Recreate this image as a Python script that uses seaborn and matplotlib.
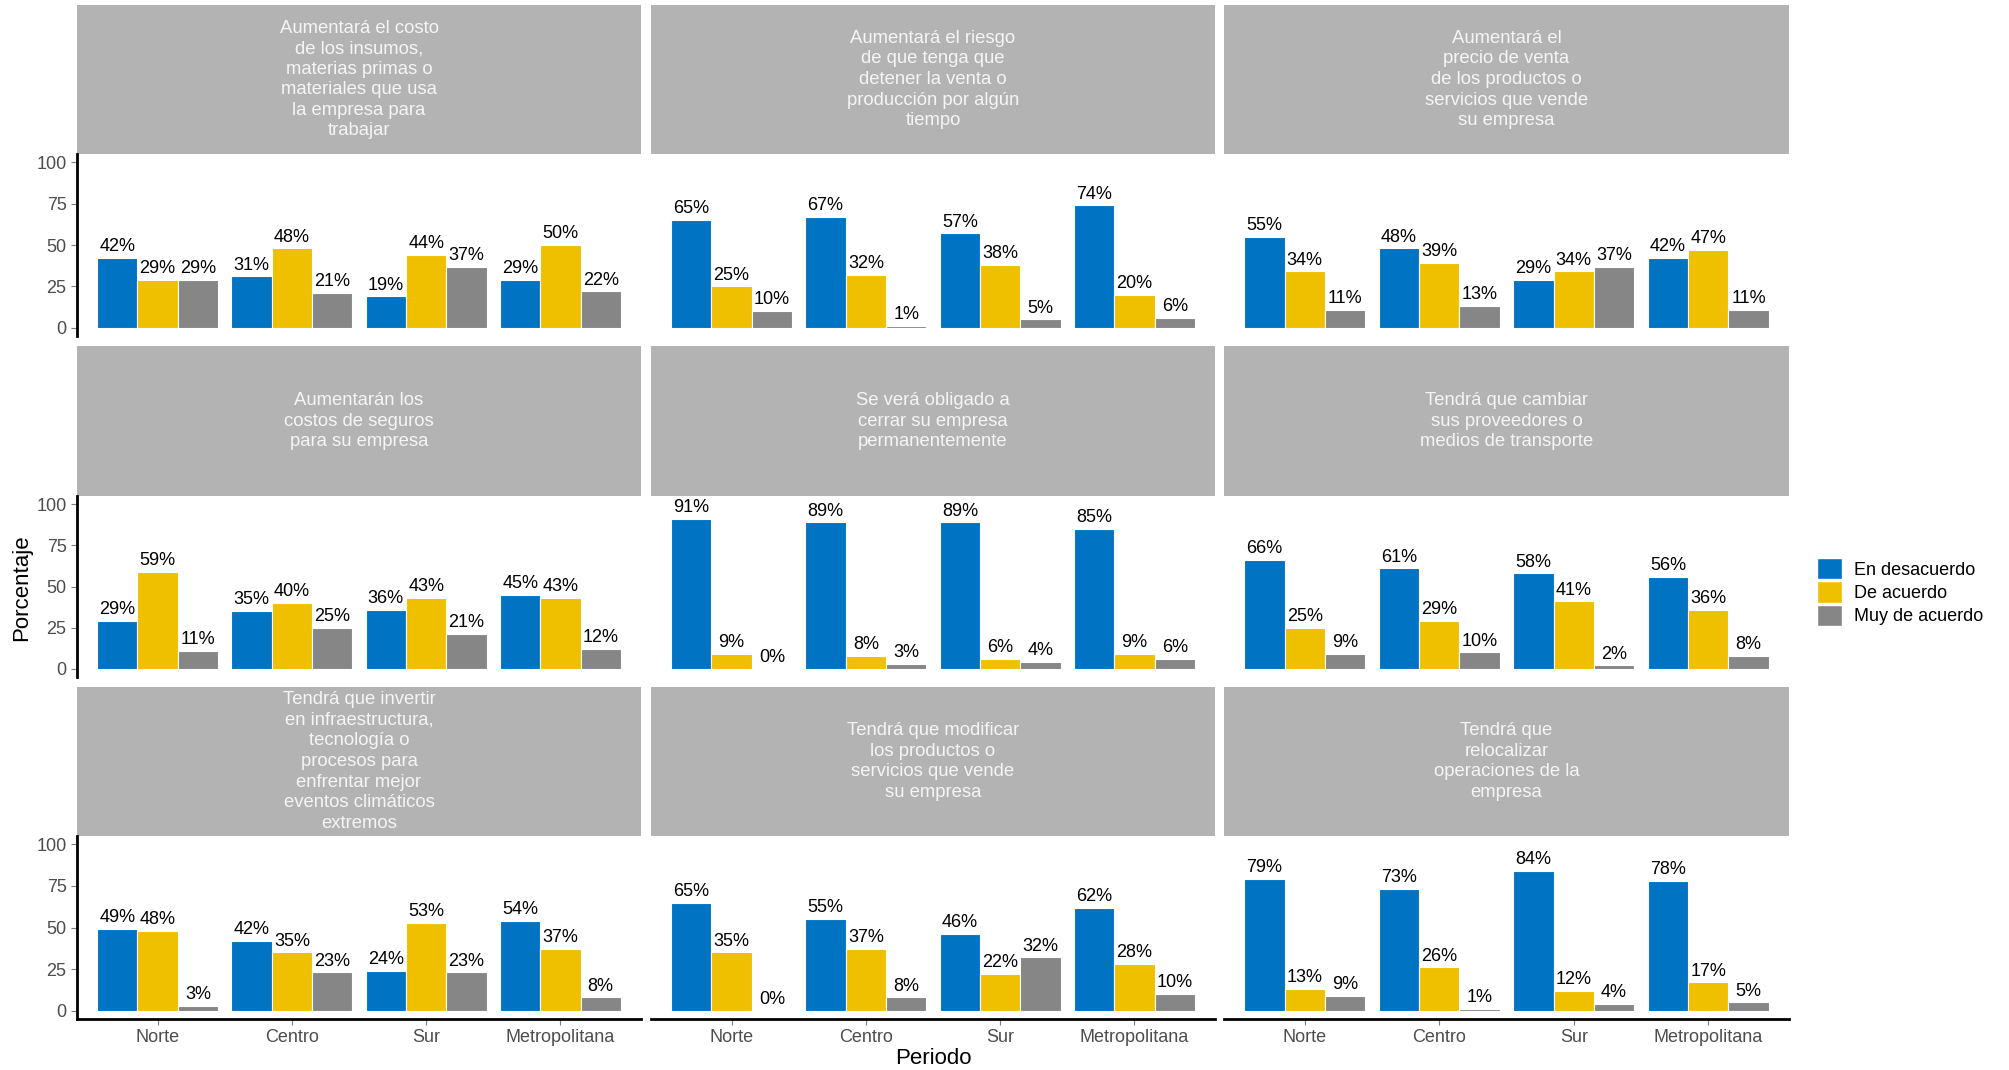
import matplotlib
matplotlib.use("Agg")
import matplotlib.pyplot as plt
from matplotlib.patches import Patch
import seaborn as sns
import pandas as pd

regions = ["Norte", "Centro", "Sur", "Metropolitana"]
series = ["En desacuerdo", "De acuerdo", "Muy de acuerdo"]
colors = ["#0073C2", "#EFC000", "#868686"]

titles = [
    "Aumentará el costo\nde los insumos,\nmaterias primas o\nmateriales que usa\nla empresa para\ntrabajar",
    "Aumentará el riesgo\nde que tenga que\ndetener la venta o\nproducción por algún\ntiempo",
    "Aumentará el\nprecio de venta\nde los productos o\nservicios que vende\nsu empresa",
    "Aumentarán los\ncostos de seguros\npara su empresa",
    "Se verá obligado a\ncerrar su empresa\npermanentemente",
    "Tendrá que cambiar\nsus proveedores o\nmedios de transporte",
    "Tendrá que invertir\nen infraestructura,\ntecnología o\nprocesos para\nenfrentar mejor\neventos climáticos\nextremos",
    "Tendrá que modificar\nlos productos o\nservicios que vende\nsu empresa",
    "Tendrá que\nrelocalizar\noperaciones de la\nempresa",
]

# values per panel: [Norte, Centro, Sur, Metropolitana] x [En desacuerdo, De acuerdo, Muy de acuerdo]
p1 = [[42, 29, 29], [31, 48, 21], [19, 44, 37], [29, 50, 22]]
p2 = [[65, 25, 10], [67, 32, 1], [57, 38, 5], [74, 20, 6]]
p3 = [[55, 34, 11], [48, 39, 13], [29, 34, 37], [42, 47, 11]]
p4 = [[29, 59, 11], [35, 40, 25], [36, 43, 21], [45, 43, 12]]
p5 = [[91, 9, 0], [89, 8, 3], [89, 6, 4], [85, 9, 6]]
p6 = [[66, 25, 9], [61, 29, 10], [58, 41, 2], [56, 36, 8]]
p7 = [[49, 48, 3], [42, 35, 23], [24, 53, 23], [54, 37, 8]]
p8 = [[65, 35, 0], [55, 37, 8], [46, 22, 32], [62, 28, 10]]
p9 = [[79, 13, 9], [73, 26, 1], [84, 12, 4], [78, 17, 5]]
panels = [p1, p2, p3, p4, p5, p6, p7, p8, p9]

yticks = [0, 25, 50, 75, 100]

FONT = ["Liberation Sans", "DejaVu Sans"]
plt.rcParams["font.family"] = FONT

W, H = 2009, 1070
fig = plt.figure(figsize=(W / 100, H / 100), dpi=100)

col_x = [(77, 641), (651, 1215), (1224, 1789)]
row_y = [((5, 154), (154, 336)), ((346, 496), (496, 677)), ((687, 836), (836, 1019))]

def fx(x):
    return x / W

def fy(y):
    return 1 - y / H

for i, (title, vals) in enumerate(zip(titles, panels)):
    r, c = divmod(i, 3)
    x0, x1 = col_x[c]
    (s0, s1), (p0, p1_) = row_y[r]
    # strip
    sax = fig.add_axes([fx(x0), fy(s1), fx(x1 - x0), (s1 - s0) / H])
    sax.set_facecolor("#B3B3B3")
    sax.set_xticks([]); sax.set_yticks([])
    for sp in sax.spines.values():
        sp.set_visible(False)
    sax.text(0.5, 0.5, title, ha="center", va="center", color="#F5F5F5",
             fontsize=13.3, linespacing=1.27, transform=sax.transAxes)
    # panel
    ax = fig.add_axes([fx(x0), fy(p1_), fx(x1 - x0), (p1_ - p0) / H])
    rows = []
    for reg, v in zip(regions, vals):
        for s, val in zip(series, v):
            rows.append({"region": reg, "serie": s, "value": val})
    df = pd.DataFrame(rows)
    sns.barplot(data=df, x="region", y="value", hue="serie", order=regions,
                hue_order=series, palette=colors, width=0.9, edgecolor="white",
                linewidth=0.8, ax=ax, legend=False, errorbar=None, saturation=1)
    for cont, s in zip(ax.containers, series):
        labs = [f"{int(round(b.get_height()))}%" for b in cont]
        ax.bar_label(cont, labels=labs, padding=2, fontsize=13, color="black")
    ax.set_xlim(-0.6, 3.6)
    ax.set_ylim(-5, 105)
    ax.set_xlabel(""); ax.set_ylabel("")
    ax.set_facecolor("white")
    for sp in ax.spines.values():
        sp.set_visible(False)
    ax.set_yticks(yticks)
    ax.tick_params(axis="both", colors="#7F7F7F", labelcolor="#4D4D4D",
                   labelsize=13, length=4, width=0.8)
    if c == 0:
        ax.spines["left"].set_visible(True)
        ax.spines["left"].set_linewidth(2.0)
        ax.spines["left"].set_color("black")
    else:
        ax.tick_params(axis="y", left=False, labelleft=False)
    if r == 2:
        ax.spines["bottom"].set_visible(True)
        ax.spines["bottom"].set_linewidth(2.0)
        ax.spines["bottom"].set_color("black")
    else:
        ax.tick_params(axis="x", bottom=False, labelbottom=False)

fig.text(fx(22), fy(588), "Porcentaje", rotation=90, ha="center", va="center",
         fontsize=16, color="black")
fig.text(fx(933), fy(1058), "Periodo", ha="center", va="center",
         fontsize=16, color="black")

handles = [Patch(facecolor=col, edgecolor="white", label=s) for s, col in zip(series, colors)]
fig.legend(handles=handles, loc="center left", bbox_to_anchor=(fx(1810), fy(592)),
           frameon=False, fontsize=13, handlelength=1.35, handleheight=1.45,
           labelspacing=0.1, handletextpad=0.7, borderaxespad=0)

fig.savefig("out.png", dpi=100, facecolor="white")
